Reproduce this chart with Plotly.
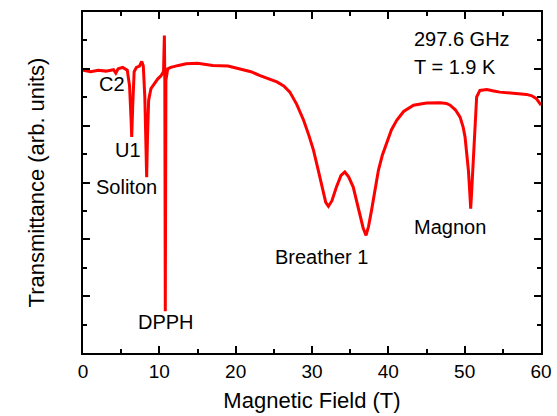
import plotly.graph_objects as go

field = [0, 1, 2, 3, 4, 4.3, 4.6, 5.2, 5.8, 6.1, 6.3, 6.38, 6.5, 6.7, 7.0, 7.4, 7.7, 7.9,
         8.1, 8.25, 8.34, 8.45, 8.6, 8.9, 9.3, 9.8, 10.2, 10.55, 10.66, 10.72, 10.78, 10.86,
         11.1, 11.5, 12.5, 13.5, 15, 17, 19, 20.5, 22, 23.2, 24.5, 25.4, 26.3, 27.1, 28,
         28.9, 29.6, 30.2, 30.8, 31.3, 31.8, 32.15, 32.6, 33.2, 33.8, 34.3, 34.8, 35.4,
         35.9, 36.3, 36.7, 37.08, 37.4, 37.8, 38.2, 38.7, 39.2, 39.8, 40.4, 41.1, 42, 43.3,
         45, 46.8, 47.6, 48.1, 48.8, 49.4, 49.8, 50.05, 50.3, 50.5, 50.68, 50.79, 50.9,
         51.13, 51.35, 51.57, 52.0, 52.9, 53.8, 54.6, 56, 57, 58.1, 58.8, 59.4, 60]
transmittance = [9.95, 9.9, 9.95, 9.92, 9.97, 9.85, 10.0, 10.05, 9.95, 9.4, 8.2, 7.6, 8.6,
                 9.9, 10.05, 10.1, 10.26, 10.1, 9.0, 7.2, 6.19, 7.6, 8.9, 9.3, 9.45, 9.65,
                 9.75, 9.9, 11.17, 9.5, 1.47, 9.6, 10.0, 10.05, 10.12, 10.18, 10.2, 10.12,
                 10.1, 10.0, 9.9, 9.76, 9.62, 9.54, 9.4, 9.18, 8.75, 8.19, 7.65, 7.13, 6.45,
                 5.84, 5.3, 5.16, 5.35, 5.84, 6.25, 6.37, 6.2, 5.84, 5.3, 4.9, 4.4, 4.14,
                 4.45, 5.02, 5.7, 6.43, 6.95, 7.42, 7.85, 8.19, 8.5, 8.72, 8.8, 8.81, 8.78,
                 8.72, 8.55, 8.3, 7.95, 7.6, 7.0, 6.4, 5.6, 5.08, 5.6, 6.78, 8.0, 9.01, 9.24,
                 9.27, 9.22, 9.18, 9.15, 9.12, 9.1, 9.05, 8.95, 8.72]

labels = ["C2", "U1", "Soliton", "DPPH", "Breather 1", "Magnon"]
label_x = [3.76, 5.93, 5.73, 10.87, 31.27, 48.08]
label_y = [9.48, 7.13, 5.84, 1.08, 3.38, 4.43]

info_text = ["297.6 GHz", "T = 1.9 K"]
info_x = [43.06, 43.06]
info_y = [11.06, 10.06]

FONT = "Liberation Sans, Arial, sans-serif"

fig = go.Figure()
fig.add_trace(go.Scatter(x=field, y=transmittance, mode="lines",
                         line=dict(color="#ff0000", width=3), showlegend=False))

for t, x, y in zip(labels, label_x, label_y):
    fig.add_annotation(x=x, y=y, text=t, showarrow=False, xanchor="center", yanchor="middle",
                       font=dict(size=20, color="black", family=FONT))
for t, x, y in zip(info_text, info_x, info_y):
    fig.add_annotation(x=x, y=y, text=t, showarrow=False, xanchor="left", yanchor="middle",
                       font=dict(size=20, color="black", family=FONT))

axis_common = dict(showgrid=False, zeroline=False, showline=True, linecolor="black",
                   linewidth=1.5, mirror="ticks", ticks="inside", tickcolor="black",
                   tickwidth=1.5, ticklen=7, automargin=False)

fig.update_xaxes(range=[0, 60], dtick=10, tick0=0,
                 minor=dict(dtick=5, ticks="inside", ticklen=4, tickcolor="black", tickwidth=1.5),
                 title=dict(text="Magnetic Field (T)", font=dict(size=22, family=FONT, color="black"),
                            standoff=12),
                 tickfont=dict(size=19, family=FONT, color="black"), **axis_common)
fig.update_yaxes(range=[0, 12], dtick=2, tick0=0, showticklabels=False,
                 minor=dict(dtick=1, ticks="inside", ticklen=4, tickcolor="black", tickwidth=1.5),
                 title=dict(text="Transmittance (arb. units)", font=dict(size=22, family=FONT, color="black"),
                            standoff=31),
                 **axis_common)

fig.update_layout(width=557, height=416, margin=dict(l=83, r=16, t=12, b=63, autoexpand=False),
                  plot_bgcolor="white", paper_bgcolor="white")

fig.write_html("out.html", config={"displayModeBar": False},
               post_script="document.body.style.margin='0';document.body.style.overflow='hidden';")
